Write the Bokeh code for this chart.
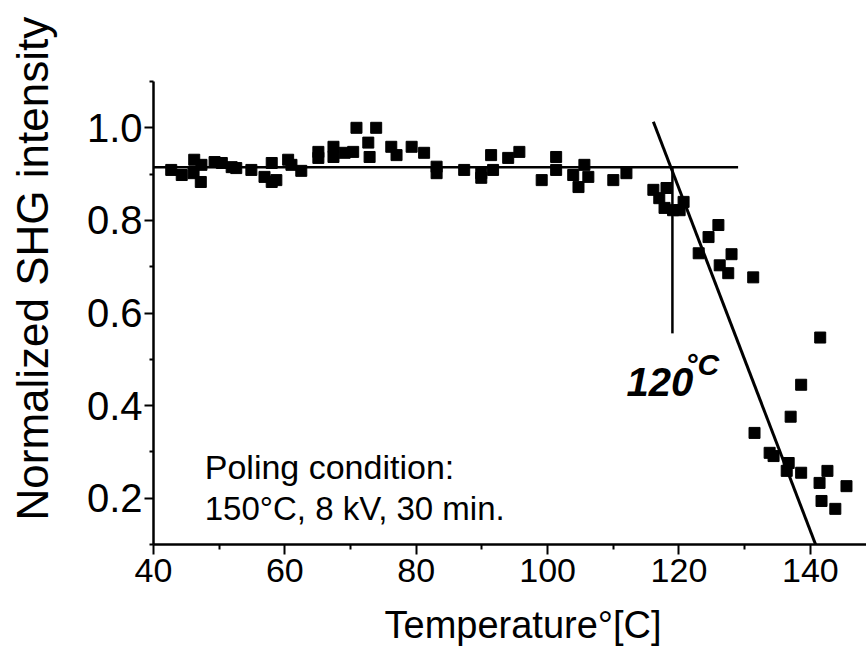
from bokeh.plotting import figure
from bokeh.models import Range1d, FixedTicker, PrintfTickFormatter, Title
from bokeh.core.properties import value
from bokeh.embed import file_html
from bokeh.resources import INLINE

# ---- data ----
temperature = [42.7, 44.3, 46.2, 46.1, 47.3, 47.2, 49.3, 50.4, 51.9, 52.6, 54.9, 56.9, 58.0, 58.7,
               58.0, 60.5, 61.0, 62.5,
               65.1, 65.1, 67.4, 67.4, 69.1, 70.4, 70.9, 72.7, 72.9, 73.9, 76.2, 77.0, 79.3, 81.2,
               83.1, 83.1, 87.3, 89.9, 89.9, 91.4, 91.7, 94.0, 95.7, 99.1, 101.3, 101.3, 103.9,
               105.6, 104.7, 106.2, 110.0, 112.0,
               116.1, 117.0, 118.1, 117.8, 119.1, 120.7, 120.1, 126.0, 124.5, 123.0, 128.0, 126.2,
               127.5, 131.3, 131.5, 133.8, 134.4, 136.7, 136.4, 137.0, 138.6, 138.6, 141.5, 142.6,
               141.4, 145.5, 141.7, 143.8]
shg = [0.909, 0.898, 0.931, 0.902, 0.920, 0.883, 0.926, 0.924, 0.915, 0.913, 0.909, 0.894, 0.883, 0.887,
       0.924, 0.931, 0.920, 0.907,
       0.948, 0.935, 0.959, 0.937, 0.946, 0.948, 1.000, 0.968, 0.937, 1.000, 0.959, 0.941, 0.959, 0.946,
       0.916, 0.902, 0.909, 0.902, 0.892, 0.941, 0.909, 0.935, 0.948, 0.887, 0.937, 0.909, 0.898,
       0.920, 0.872, 0.894, 0.887, 0.902,
       0.866, 0.848, 0.870, 0.827, 0.822, 0.840, 0.822, 0.790, 0.764, 0.729, 0.727, 0.703,
       0.686, 0.677, 0.341, 0.298, 0.291, 0.276, 0.259, 0.376, 0.255, 0.445, 0.547, 0.259,
       0.233, 0.226, 0.194, 0.177]

plateau_x = [40, 129]
plateau_y = [0.915, 0.915]
decay_x = [116.1, 140.8]
decay_y = [1.013, 0.10]
onset_x = [119.0, 119.0]
onset_y = [0.915, 0.556]

x_ticks = [40, 60, 80, 100, 120, 140]
x_minor = [50, 70, 90, 110, 130]
y_ticks = [0.2, 0.4, 0.6, 0.8, 1.0]
y_minor = [0.1, 0.3, 0.5, 0.7, 0.9, 1.1]

FONT = "Liberation Sans"

p = figure(output_backend="svg", toolbar_location=None,
           frame_width=714, frame_height=463,
           x_range=Range1d(40, 148.7), y_range=Range1d(0.1, 1.1))
p.min_border_left = 152
p.min_border_top = 81
p.min_border_right = 0
p.min_border_bottom = 115
p.outline_line_color = None
p.xgrid.visible = False
p.ygrid.visible = False
p.background_fill_color = "white"
p.border_fill_color = "white"

# axes
xa = p.xaxis[0]
xa.ticker = FixedTicker(ticks=x_ticks, minor_ticks=x_minor)
xa.axis_line_width = 2.5
xa.major_tick_line_width = 2
xa.minor_tick_line_width = 2
xa.major_tick_out = 10
xa.major_tick_in = 0
xa.minor_tick_out = 5
xa.minor_tick_in = 0
xa.major_label_text_font = FONT
xa.major_label_text_font_size = "34px"
xa.major_label_text_color = "black"
xa.major_label_standoff = 4

ya = p.yaxis[0]
ya.ticker = FixedTicker(ticks=y_ticks, minor_ticks=y_minor)
ya.formatter = PrintfTickFormatter(format="%.1f")
ya.axis_line_width = 2.5
ya.major_tick_line_width = 2
ya.minor_tick_line_width = 2
ya.major_tick_out = 9
ya.major_tick_in = 0
ya.minor_tick_out = 4
ya.minor_tick_in = 0
ya.major_label_text_font = FONT
ya.major_label_text_font_size = "40px"
ya.major_label_text_color = "black"
ya.major_label_standoff = 2
# blank spacer label: widens the axis panel so the title sits further left
ya.axis_label = " "
ya.axis_label_text_font_size = "17px"
ya.axis_label_standoff = 0

# axis titles as side-panel titles
p.add_layout(Title(text="Normalized SHG intensity", align="left", offset=24,
                   text_font=FONT, text_font_size="44px", text_font_style="normal",
                   text_color="black", standoff=10), "left")
p.add_layout(Title(text="Temperature°[C]", align="left", offset=231,
                   text_font=FONT, text_font_size="38px", text_font_style="normal",
                   text_color="black", standoff=34), "below")

# fit lines
p.line(plateau_x, plateau_y, line_color="black", line_width=2.5)
p.line(decay_x, decay_y, line_color="black", line_width=3)
p.line(onset_x, onset_y, line_color="black", line_width=2.5)

# data
p.scatter(temperature, shg, marker="square", size=11, color="black")

# annotations
p.text(x=[112.0], y=[0.450], text=["120"], text_font=value(FONT), text_font_size="40px",
       text_font_style="bold italic", text_baseline="alphabetic", text_align="left", text_color="black")
p.text(x=[121.0], y=[0.525], text=["°C"], text_font=value(FONT), text_font_size="30px",
       text_font_style="bold italic", text_baseline="top", text_align="left", text_color="black")
p.text(x=[47.8], y=[0.268], text=["Poling condition:"], text_font=value(FONT), text_font_size="34px",
       text_baseline="alphabetic", text_align="left", text_color="black")
p.text(x=[47.8], y=[0.177], text=["150°C, 8 kV, 30 min."], text_font=value(FONT), text_font_size="33px",
       text_baseline="alphabetic", text_align="left", text_color="black")

open("out.html", "w").write(file_html(p, INLINE))
